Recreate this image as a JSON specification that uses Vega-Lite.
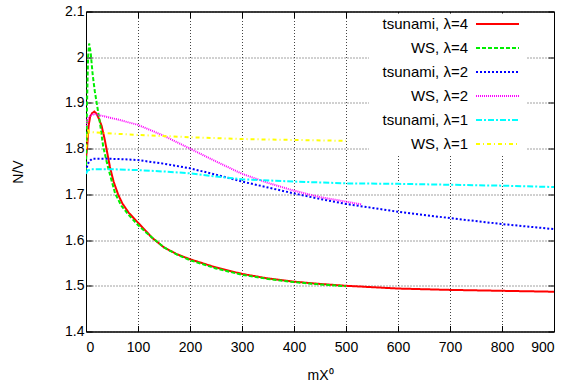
{
  "$schema": "https://vega.github.io/schema/vega-lite/v6.json",
  "width": 468,
  "height": 320,
  "autosize": {"type": "none"},
  "padding": {"left": 86, "top": 11.5, "right": 22, "bottom": 52.5},
  "background": "white",
  "config": {
    "font": "Liberation Sans",
    "view": {"stroke": "black", "strokeWidth": 1},
    "axis": {
      "labelFont": "Liberation Sans",
      "titleFont": "Liberation Sans",
      "labelFontSize": 14,
      "titleFontSize": 14,
      "labelColor": "black",
      "titleColor": "black",
      "titleFontWeight": "normal",
      "domainColor": "black",
      "tickColor": "black",
      "gridColor": "#444444",
      "gridDash": [1, 2],
      "gridWidth": 1,
      "gridOpacity": 1,
      "tickSize": -6
    },
    "legend": {
      "labelFont": "Liberation Sans",
      "labelFontSize": 15,
      "labelColor": "black"
    }
  },
  "data": {
    "values": [
      {"s": "tsunami, λ=4", "x": 0, "y": 1.78},
      {"s": "tsunami, λ=4", "x": 2, "y": 1.80},
      {"s": "tsunami, λ=4", "x": 5, "y": 1.85},
      {"s": "tsunami, λ=4", "x": 8, "y": 1.87},
      {"s": "tsunami, λ=4", "x": 12, "y": 1.878},
      {"s": "tsunami, λ=4", "x": 16, "y": 1.881},
      {"s": "tsunami, λ=4", "x": 20, "y": 1.877},
      {"s": "tsunami, λ=4", "x": 25, "y": 1.865},
      {"s": "tsunami, λ=4", "x": 30, "y": 1.850},
      {"s": "tsunami, λ=4", "x": 36, "y": 1.820},
      {"s": "tsunami, λ=4", "x": 41, "y": 1.790},
      {"s": "tsunami, λ=4", "x": 46, "y": 1.760},
      {"s": "tsunami, λ=4", "x": 53, "y": 1.728},
      {"s": "tsunami, λ=4", "x": 62, "y": 1.699},
      {"s": "tsunami, λ=4", "x": 70, "y": 1.680},
      {"s": "tsunami, λ=4", "x": 82, "y": 1.660},
      {"s": "tsunami, λ=4", "x": 100, "y": 1.638},
      {"s": "tsunami, λ=4", "x": 115, "y": 1.620},
      {"s": "tsunami, λ=4", "x": 127, "y": 1.605},
      {"s": "tsunami, λ=4", "x": 150, "y": 1.584},
      {"s": "tsunami, λ=4", "x": 175, "y": 1.569},
      {"s": "tsunami, λ=4", "x": 200, "y": 1.558},
      {"s": "tsunami, λ=4", "x": 250, "y": 1.540},
      {"s": "tsunami, λ=4", "x": 300, "y": 1.526},
      {"s": "tsunami, λ=4", "x": 350, "y": 1.516},
      {"s": "tsunami, λ=4", "x": 400, "y": 1.509},
      {"s": "tsunami, λ=4", "x": 450, "y": 1.504},
      {"s": "tsunami, λ=4", "x": 500, "y": 1.500},
      {"s": "tsunami, λ=4", "x": 600, "y": 1.494},
      {"s": "tsunami, λ=4", "x": 700, "y": 1.491},
      {"s": "tsunami, λ=4", "x": 800, "y": 1.489},
      {"s": "tsunami, λ=4", "x": 900, "y": 1.487},

      {"s": "WS, λ=4", "x": 0, "y": 1.75},
      {"s": "WS, λ=4", "x": 2, "y": 1.90},
      {"s": "WS, λ=4", "x": 4, "y": 2.00},
      {"s": "WS, λ=4", "x": 6, "y": 2.03},
      {"s": "WS, λ=4", "x": 9, "y": 2.01},
      {"s": "WS, λ=4", "x": 13, "y": 1.96},
      {"s": "WS, λ=4", "x": 17, "y": 1.925},
      {"s": "WS, λ=4", "x": 22, "y": 1.89},
      {"s": "WS, λ=4", "x": 27, "y": 1.855},
      {"s": "WS, λ=4", "x": 33, "y": 1.805},
      {"s": "WS, λ=4", "x": 40, "y": 1.77},
      {"s": "WS, λ=4", "x": 48, "y": 1.735},
      {"s": "WS, λ=4", "x": 56, "y": 1.702},
      {"s": "WS, λ=4", "x": 68, "y": 1.675},
      {"s": "WS, λ=4", "x": 82, "y": 1.655},
      {"s": "WS, λ=4", "x": 100, "y": 1.633},
      {"s": "WS, λ=4", "x": 115, "y": 1.617},
      {"s": "WS, λ=4", "x": 133, "y": 1.600},
      {"s": "WS, λ=4", "x": 150, "y": 1.584},
      {"s": "WS, λ=4", "x": 175, "y": 1.568},
      {"s": "WS, λ=4", "x": 200, "y": 1.556},
      {"s": "WS, λ=4", "x": 250, "y": 1.538},
      {"s": "WS, λ=4", "x": 300, "y": 1.524},
      {"s": "WS, λ=4", "x": 350, "y": 1.515},
      {"s": "WS, λ=4", "x": 400, "y": 1.508},
      {"s": "WS, λ=4", "x": 450, "y": 1.503},
      {"s": "WS, λ=4", "x": 500, "y": 1.499},

      {"s": "tsunami, λ=2", "x": 0, "y": 1.75},
      {"s": "tsunami, λ=2", "x": 3, "y": 1.765},
      {"s": "tsunami, λ=2", "x": 6, "y": 1.772},
      {"s": "tsunami, λ=2", "x": 12, "y": 1.778},
      {"s": "tsunami, λ=2", "x": 20, "y": 1.778},
      {"s": "tsunami, λ=2", "x": 40, "y": 1.778},
      {"s": "tsunami, λ=2", "x": 70, "y": 1.777},
      {"s": "tsunami, λ=2", "x": 100, "y": 1.775},
      {"s": "tsunami, λ=2", "x": 150, "y": 1.767},
      {"s": "tsunami, λ=2", "x": 200, "y": 1.757},
      {"s": "tsunami, λ=2", "x": 250, "y": 1.743},
      {"s": "tsunami, λ=2", "x": 300, "y": 1.728},
      {"s": "tsunami, λ=2", "x": 350, "y": 1.715},
      {"s": "tsunami, λ=2", "x": 400, "y": 1.702},
      {"s": "tsunami, λ=2", "x": 450, "y": 1.690},
      {"s": "tsunami, λ=2", "x": 500, "y": 1.679},
      {"s": "tsunami, λ=2", "x": 600, "y": 1.662},
      {"s": "tsunami, λ=2", "x": 700, "y": 1.648},
      {"s": "tsunami, λ=2", "x": 800, "y": 1.635},
      {"s": "tsunami, λ=2", "x": 900, "y": 1.624},

      {"s": "WS, λ=2", "x": 0, "y": 1.85},
      {"s": "WS, λ=2", "x": 3, "y": 1.866},
      {"s": "WS, λ=2", "x": 8, "y": 1.872},
      {"s": "WS, λ=2", "x": 16, "y": 1.876},
      {"s": "WS, λ=2", "x": 30, "y": 1.872},
      {"s": "WS, λ=2", "x": 60, "y": 1.864},
      {"s": "WS, λ=2", "x": 100, "y": 1.852},
      {"s": "WS, λ=2", "x": 150, "y": 1.828},
      {"s": "WS, λ=2", "x": 200, "y": 1.800},
      {"s": "WS, λ=2", "x": 250, "y": 1.772},
      {"s": "WS, λ=2", "x": 300, "y": 1.745},
      {"s": "WS, λ=2", "x": 350, "y": 1.725},
      {"s": "WS, λ=2", "x": 400, "y": 1.708},
      {"s": "WS, λ=2", "x": 450, "y": 1.694},
      {"s": "WS, λ=2", "x": 500, "y": 1.684},
      {"s": "WS, λ=2", "x": 530, "y": 1.678},

      {"s": "tsunami, λ=1", "x": 0, "y": 1.745},
      {"s": "tsunami, λ=1", "x": 3, "y": 1.752},
      {"s": "tsunami, λ=1", "x": 10, "y": 1.755},
      {"s": "tsunami, λ=1", "x": 50, "y": 1.755},
      {"s": "tsunami, λ=1", "x": 100, "y": 1.753},
      {"s": "tsunami, λ=1", "x": 150, "y": 1.750},
      {"s": "tsunami, λ=1", "x": 200, "y": 1.746},
      {"s": "tsunami, λ=1", "x": 250, "y": 1.739},
      {"s": "tsunami, λ=1", "x": 300, "y": 1.733},
      {"s": "tsunami, λ=1", "x": 400, "y": 1.728},
      {"s": "tsunami, λ=1", "x": 500, "y": 1.724},
      {"s": "tsunami, λ=1", "x": 600, "y": 1.723},
      {"s": "tsunami, λ=1", "x": 700, "y": 1.721},
      {"s": "tsunami, λ=1", "x": 800, "y": 1.719},
      {"s": "tsunami, λ=1", "x": 900, "y": 1.716},

      {"s": "WS, λ=1", "x": 0, "y": 1.80},
      {"s": "WS, λ=1", "x": 2, "y": 1.82},
      {"s": "WS, λ=1", "x": 4, "y": 1.845},
      {"s": "WS, λ=1", "x": 6, "y": 1.835},
      {"s": "WS, λ=1", "x": 10, "y": 1.836},
      {"s": "WS, λ=1", "x": 50, "y": 1.833},
      {"s": "WS, λ=1", "x": 100, "y": 1.830},
      {"s": "WS, λ=1", "x": 200, "y": 1.825},
      {"s": "WS, λ=1", "x": 300, "y": 1.821},
      {"s": "WS, λ=1", "x": 400, "y": 1.819},
      {"s": "WS, λ=1", "x": 500, "y": 1.817}
    ]
  },
  "layer": [
    {
      "mark": {"type": "line", "strokeWidth": 2, "clip": true},
      "encoding": {
        "x": {
          "field": "x", "type": "quantitative",
          "scale": {"domain": [0, 900], "nice": false},
          "axis": {"values": [0,100,200,300,400,500,600,700,800,900], "title": "mX⁰", "labelPadding": 15, "titlePadding": 14, "grid": true}
        },
        "y": {
          "field": "y", "type": "quantitative",
          "scale": {"domain": [1.4, 2.1], "nice": false, "zero": false},
          "axis": {"values": [1.4,1.5,1.6,1.7,1.8,1.9,2.0,2.1], "format": "~g", "title": "N/V", "labelPadding": 8, "titlePadding": 39, "grid": true}
        },
        "color": {
          "field": "s", "type": "nominal",
          "scale": {
            "domain": ["tsunami, λ=4", "WS, λ=4", "tsunami, λ=2", "WS, λ=2", "tsunami, λ=1", "WS, λ=1"],
            "range": ["#ff0000", "#00ee00", "#0000ff", "#ff00ff", "#00ffff", "#ffff00"]
          },
          "legend": {
            "title": null,
            "orient": "none",
            "legendX": 283,
            "legendY": 2,
            "symbolType": "M-4,0H4",
            "symbolSize": 115.6,
            "symbolStrokeWidth": 2,
            "symbolOffset": 118,
            "labelAlign": "right",
            "labelOffset": -37,
            "rowPadding": 8,
            "fillColor": "white",
            "padding": 3
          }
        },
        "strokeDash": {
          "field": "s", "type": "nominal",
          "scale": {
            "domain": ["tsunami, λ=4", "WS, λ=4", "tsunami, λ=2", "WS, λ=2", "tsunami, λ=1", "WS, λ=1"],
            "range": [[1, 0], [4, 2], [2, 2], [1, 1], [6, 2, 2, 2], [4, 3, 1, 3]]
          },
          "legend": null
        }
      }
    },
    {
      "mark": {"type": "point", "opacity": 0},
      "encoding": {
        "x": {"field": "x", "type": "quantitative", "axis": {"orient": "top", "values": [0,100,200,300,400,500,600,700,800,900], "labels": false, "grid": false, "title": null}},
        "y": {"field": "y", "type": "quantitative", "axis": {"orient": "right", "values": [1.4,1.5,1.6,1.7,1.8,1.9,2.0,2.1], "labels": false, "grid": false, "title": null}}
      }
    }
  ],
  "resolve": {"axis": {"x": "independent", "y": "independent"}}
}
